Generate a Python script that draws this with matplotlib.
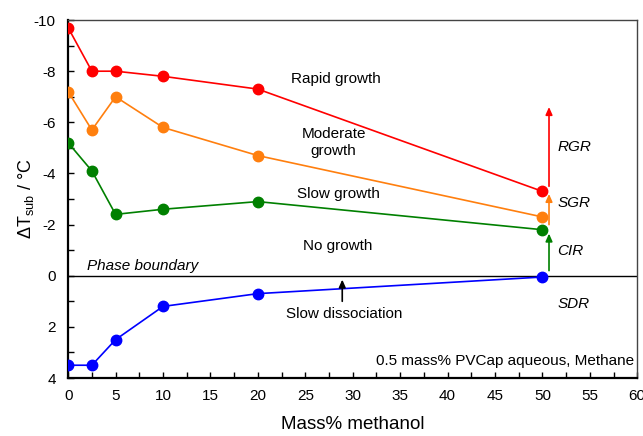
import numpy as np
import matplotlib
matplotlib.use("Agg")
import matplotlib.pyplot as plt
from matplotlib.ticker import MultipleLocator

plt.rcParams['font.family'] = ['Liberation Sans', 'DejaVu Sans']
plt.rcParams['mathtext.fontset'] = 'custom'
plt.rcParams['mathtext.rm'] = 'Liberation Sans'
plt.rcParams['axes.unicode_minus'] = False

# data
methanol = [0, 2.5, 5, 10, 20, 50]
rapid_growth = [-9.7, -8.0, -8.0, -7.8, -7.3, -3.3]
moderate_growth = [-7.2, -5.7, -7.0, -5.8, -4.7, -2.3]
slow_growth = [-5.2, -4.1, -2.4, -2.6, -2.9, -1.8]
dissociation = [3.5, 3.5, 2.5, 1.2, 0.7, 0.05]

# region arrows at 50 mass%: (start, end)
arrow_x = 50.7
rgr_arrow = (-3.5, -6.6)
sgr_arrow = (-2.0, -3.2)
cir_arrow = (-0.2, -1.65)
sdr_arrow_x = 28.9
sdr_arrow = (1.0, 0.15)

fig = plt.figure(figsize=(6.43, 4.36), dpi=100)
ax = fig.add_axes([0.106, 0.133, 0.885, 0.821])

ax.axhline(0, color='black', lw=1.0, zorder=1)

ms = 7.5
ax.plot(methanol, rapid_growth, '-o', color='#ff0000', ms=ms, lw=1.2, zorder=3)
ax.plot(methanol, moderate_growth, '-o', color='#ff7f0e', ms=ms, lw=1.2, zorder=3)
ax.plot(methanol, slow_growth, '-o', color='#008000', ms=ms, lw=1.2, zorder=3)
ax.plot(methanol, dissociation, '-o', color='#0000ff', ms=ms, lw=1.2, zorder=3)

def arrow(x, y0, y1, c):
    ax.annotate('', xy=(x, y1), xytext=(x, y0),
                arrowprops=dict(arrowstyle='-|>,head_length=0.45,head_width=0.2',
                                color=c, lw=1.2, shrinkA=0, shrinkB=0))

arrow(arrow_x, *rgr_arrow, '#ff0000')
arrow(arrow_x, *sgr_arrow, '#ff7f0e')
arrow(arrow_x, *cir_arrow, '#008000')
arrow(sdr_arrow_x, *sdr_arrow, 'black')

fs = 11
ax.text(28.2, -7.7, 'Rapid growth', fontsize=fs, ha='center', va='center')
ax.text(28.0, -5.2, 'Moderate\ngrowth', fontsize=fs, ha='center', va='center',
        linespacing=1.25)
ax.text(28.5, -3.2, 'Slow growth', fontsize=fs, ha='center', va='center')
ax.text(28.4, -1.15, 'No growth', fontsize=fs, ha='center', va='center')
ax.text(29.1, 1.5, 'Slow dissociation', fontsize=fs, ha='center', va='center')
ax.text(2.0, -0.4, 'Phase boundary', fontsize=fs, style='italic', va='center')
ax.text(51.6, -5.05, 'RGR', fontsize=fs, style='italic', va='center')
ax.text(51.6, -2.85, 'SGR', fontsize=fs, style='italic', va='center')
ax.text(51.6, -0.95, 'CIR', fontsize=fs, style='italic', va='center')
ax.text(51.6, 1.12, 'SDR', fontsize=fs, style='italic', va='center')
ax.text(59.7, 3.32, '0.5 mass% PVCap aqueous, Methane', fontsize=fs,
        ha='right', va='center')

ax.set_xlim(0, 60)
ax.set_ylim(4, -10)
ax.xaxis.set_major_locator(MultipleLocator(5))
ax.xaxis.set_minor_locator(MultipleLocator(2.5))
ax.yaxis.set_major_locator(MultipleLocator(2))
ax.yaxis.set_minor_locator(MultipleLocator(1))
ax.tick_params(which='both', direction='in', length=4, width=1.0, labelsize=fs,
               top=False, right=False)
ax.tick_params(axis='x', pad=8)
ax.tick_params(axis='y', pad=9)

for s in ['left', 'bottom']:
    ax.spines[s].set_linewidth(1.6)
for s in ['top', 'right']:
    ax.spines[s].set_linewidth(1.0)
    ax.spines[s].set_color('#444444')

ax.set_xlabel('Mass% methanol', fontsize=13.5, labelpad=9)
ax.set_ylabel('ΔT$_{\\rm sub}$ / °C', fontsize=13, labelpad=-2)

fig.savefig('out.png', dpi=100)
